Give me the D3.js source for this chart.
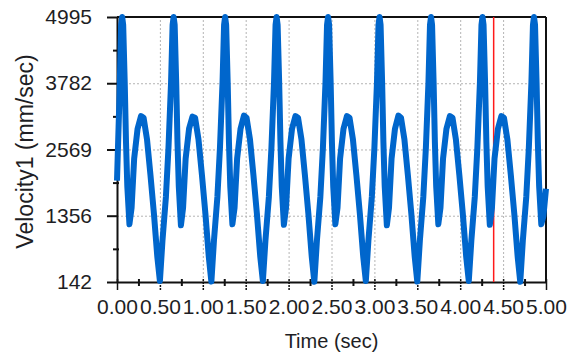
<!DOCTYPE html>
<html>
<head>
<meta charset="utf-8">
<script src="https://cdn.jsdelivr.net/npm/d3@7"></script>
<style>
  body { margin: 0; background: #fff; }
  svg text { font-family: "Liberation Sans", Arial, sans-serif; fill: #1e1e24; }
</style>
</head>
<body>
<svg id="chart"></svg>
<script>
// values
var timeSec = [
  0.00, 0.03, 0.048, 0.06, 0.072, 0.09, 0.105, 0.12, 0.145, 0.17, 0.20, 0.24, 0.28, 0.31, 0.35, 0.39, 0.43, 0.47,
  0.50, 0.53, 0.57, 0.60, 0.63, 0.648, 0.66, 0.672, 0.69, 0.705, 0.72, 0.745, 0.77, 0.80, 0.84, 0.88, 0.91, 0.95, 0.99, 1.03, 1.07,
  1.10, 1.13, 1.17, 1.20, 1.23, 1.248, 1.26, 1.272, 1.29, 1.305, 1.32, 1.345, 1.37, 1.40, 1.44, 1.48, 1.51, 1.55, 1.59, 1.63, 1.67,
  1.70, 1.73, 1.77, 1.80, 1.83, 1.848, 1.86, 1.872, 1.89, 1.905, 1.92, 1.945, 1.97, 2.00, 2.04, 2.08, 2.11, 2.15, 2.19, 2.23, 2.27,
  2.30, 2.33, 2.37, 2.40, 2.43, 2.448, 2.46, 2.472, 2.49, 2.505, 2.52, 2.545, 2.57, 2.60, 2.64, 2.68, 2.71, 2.75, 2.79, 2.83, 2.87,
  2.90, 2.93, 2.97, 3.00, 3.03, 3.048, 3.06, 3.072, 3.09, 3.105, 3.12, 3.145, 3.17, 3.20, 3.24, 3.28, 3.31, 3.35, 3.39, 3.43, 3.47,
  3.50, 3.53, 3.57, 3.60, 3.63, 3.648, 3.66, 3.672, 3.69, 3.705, 3.72, 3.745, 3.77, 3.80, 3.84, 3.88, 3.91, 3.95, 3.99, 4.03, 4.07,
  4.10, 4.13, 4.17, 4.20, 4.23, 4.248, 4.26, 4.272, 4.29, 4.305, 4.32, 4.345, 4.37, 4.40, 4.44, 4.48, 4.51, 4.55, 4.59, 4.63, 4.67,
  4.70, 4.73, 4.77, 4.80, 4.83, 4.848, 4.86, 4.872, 4.89, 4.905, 4.92, 4.945, 4.97, 5.00
];
var velocity = [
  2000, 3600, 4850, 4995, 4850, 3800, 2700, 1900, 1200, 1500, 2400, 2950, 3180, 3150, 2750, 2100, 1400, 600,
  160, 900, 1700, 2600, 3800, 4850, 4995, 4850, 3800, 2700, 1900, 1180, 1500, 2400, 2950, 3170, 3150, 2750, 2100, 1400, 600,
  150, 900, 1700, 2600, 3800, 4850, 4995, 4850, 3800, 2700, 1900, 1200, 1500, 2400, 2950, 3190, 3150, 2750, 2100, 1400, 600,
  160, 900, 1700, 2600, 3800, 4850, 4995, 4850, 3800, 2700, 1900, 1190, 1500, 2400, 2950, 3180, 3150, 2750, 2100, 1400, 600,
  145, 900, 1700, 2600, 3800, 4850, 4995, 4850, 3800, 2700, 1900, 1200, 1500, 2400, 2950, 3180, 3150, 2750, 2100, 1400, 600,
  160, 900, 1700, 2600, 3800, 4850, 4995, 4850, 3800, 2700, 1900, 1180, 1500, 2400, 2950, 3190, 3150, 2750, 2100, 1400, 600,
  150, 900, 1700, 2600, 3800, 4850, 4995, 4850, 3800, 2700, 1900, 1200, 1500, 2400, 2950, 3180, 3150, 2750, 2100, 1400, 600,
  160, 900, 1700, 2600, 3800, 4850, 4995, 4850, 3800, 2700, 1900, 1190, 1500, 2400, 2950, 3180, 3150, 2750, 2100, 1400, 600,
  145, 900, 1700, 2600, 3800, 4850, 4995, 4850, 3800, 2700, 1900, 1200, 1350, 1850
];
var yTicks = [142, 1356, 2569, 3782, 4995];
var xTicks = [0, 0.5, 1, 1.5, 2, 2.5, 3, 3.5, 4, 4.5, 5];
var cursorTime = 4.39;

var svgWidth = 578,
  svgHeight = 354;
var margin = { left: 117, top: 17, right: 32, bottom: 72 };
var chartWidth = svgWidth - margin.left - margin.right,
  chartHeight = svgHeight - margin.top - margin.bottom;

var svg = d3.select("#chart").attr("width", svgWidth).attr("height", svgHeight);

var xScale = d3.scaleLinear().domain([0, 5]).range([0, chartWidth]);
var yScale = d3.scaleLinear().domain([142, 4995]).range([chartHeight, 0]);

var g = svg.append("g")
  .attr("transform", "translate(" + margin.left + "," + margin.top + ")");

// minor ticks sit halfway between the labelled ones
var xMinor = d3.pairs(xTicks).map(function (p) { return (p[0] + p[1]) / 2; });
var yMinor = d3.pairs(yTicks).map(function (p) { return (p[0] + p[1]) / 2; });

// dotted grid
g.append("g")
  .call(d3.axisLeft(yScale).tickValues(yTicks.slice(1, -1)).tickSize(-chartWidth).tickFormat(""))
  .call(function (a) { a.select(".domain").remove(); })
  .selectAll("line")
  .attr("stroke", "#b4b4b4")
  .attr("stroke-dasharray", "2,2");

g.append("g")
  .attr("transform", "translate(0," + chartHeight + ")")
  .call(d3.axisBottom(xScale).tickValues(xTicks.slice(1, -1)).tickSize(-chartHeight).tickFormat(""))
  .call(function (a) { a.select(".domain").remove(); })
  .selectAll("line")
  .attr("stroke", "#b4b4b4")
  .attr("stroke-dasharray", "2,2");

// frame top and right
g.append("line").attr("x1", 0).attr("x2", chartWidth).attr("y1", 0).attr("y2", 0)
  .attr("stroke", "#111").attr("stroke-width", 2);
g.append("line").attr("x1", chartWidth).attr("x2", chartWidth).attr("y1", 0).attr("y2", chartHeight)
  .attr("stroke", "#111").attr("stroke-width", 2);

// y axis
var yAxisG = g.append("g")
  .call(d3.axisLeft(yScale).tickValues(yTicks).tickSize(10).tickPadding(15).tickSizeOuter(0)
    .tickFormat(d3.format("d")));
yAxisG.select(".domain").attr("stroke", "#111").attr("stroke-width", 2);
yAxisG.selectAll(".tick line").attr("stroke", "#111").attr("stroke-width", 2);
yAxisG.selectAll(".tick text").style("font-size", "21px").attr("fill", "#1e1e24");

g.append("g")
  .call(d3.axisLeft(yScale).tickValues(yMinor).tickSize(4).tickFormat("").tickSizeOuter(0))
  .call(function (a) { a.select(".domain").remove(); })
  .selectAll("line")
  .attr("stroke", "#111").attr("stroke-width", 2).attr("x2", -4).attr("x1", 2);

// x axis
var xAxisG = g.append("g")
  .attr("transform", "translate(0," + chartHeight + ")")
  .call(d3.axisBottom(xScale).tickValues(xTicks).tickSize(8).tickPadding(9).tickSizeOuter(0)
    .tickFormat(d3.format(".2f")));
xAxisG.select(".domain").attr("stroke", "#111").attr("stroke-width", 2);
xAxisG.selectAll(".tick line").attr("stroke", "#111").attr("stroke-width", 1.5)
  .attr("y1", -3)
  .attr("stroke-dasharray", function (d) { return d > 0 && d < 5 ? "2,1" : null; });
xAxisG.selectAll(".tick text").style("font-size", "21px").attr("fill", "#1e1e24");

g.append("g")
  .attr("transform", "translate(0," + chartHeight + ")")
  .call(d3.axisBottom(xScale).tickValues(xMinor).tickSize(4).tickFormat("").tickSizeOuter(0))
  .call(function (a) { a.select(".domain").remove(); })
  .selectAll("line")
  .attr("stroke", "#111").attr("stroke-width", 2).attr("y1", -3);

// cursor
g.append("line")
  .attr("x1", xScale(cursorTime)).attr("x2", xScale(cursorTime))
  .attr("y1", 0).attr("y2", chartHeight)
  .attr("stroke", "#ff1a1a").attr("stroke-width", 1.5);

// velocity trace
var points = timeSec.map(function (t, i) { return [t, velocity[i]]; });
var line = d3.line()
  .x(function (d) { return xScale(d[0]); })
  .y(function (d) { return yScale(d[1]); });

g.append("path")
  .datum(points)
  .attr("d", line)
  .attr("fill", "none")
  .attr("stroke", "#0066cc")
  .attr("stroke-width", 6)
  .attr("stroke-linejoin", "round");

// axis titles
svg.append("text")
  .attr("x", margin.left + chartWidth / 2)
  .attr("y", 348)
  .attr("text-anchor", "middle")
  .style("font-size", "20px")
  .text("Time (sec)");

svg.append("text")
  .attr("transform", "translate(33," + (margin.top + chartHeight / 2 + 2) + ") rotate(-90)")
  .attr("text-anchor", "middle")
  .style("font-size", "23px")
  .text("Velocity1 (mm/sec)");
</script>
</body>
</html>
